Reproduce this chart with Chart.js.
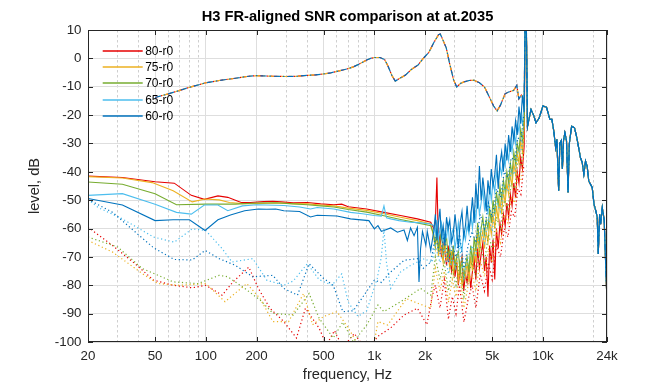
<!DOCTYPE html>
<html>
<head>
<meta charset="utf-8">
<script src="https://cdn.jsdelivr.net/npm/chart.js@4.4.1/dist/chart.umd.min.js"></script>
<style>
  html, body { margin: 0; padding: 0; background: #fff; }
  #wrap { width: 672px; height: 384px; }
</style>
</head>
<body>
<div id="wrap"><canvas id="snr" width="672" height="384"></canvas></div>
<script>
// ---- data (frequency in Hz, level in dB) ----

const titleText = "H3 FR-aligned SNR comparison at at.2035";
const seriesNames = ["80-r0", "75-r0", "70-r0", "65-r0", "60-r0"];
const seriesColors = ["#e60000", "#EDB120", "#77AC30", "#4DBEEE", "#0072BD"];

const xMajor = [20, 50, 100, 200, 500, 1000, 2000, 5000, 10000, 24000];
const xMajorLabels = ["20", "50", "100", "200", "500", "1k", "2k", "5k", "10k", "24k"];
const xMinor = [30, 40, 60, 70, 80, 90, 300, 400, 600, 700, 800, 900,
  3000, 4000, 6000, 7000, 8000, 9000, 20000];

// solid lines, smooth part below ~2.2 kHz
const red80Low = [[20,-41.5],[32,-42],[50,-43.5],[65,-44],[82,-48.3],[98,-49.7],[118,-48.5],[135,-49],[162,-50.8],
  [184,-50.8],[220,-50.5],[250,-50.4],[280,-50.6],[330,-50.9],[400,-50.8],[480,-51.3],[575,-51.6],[640,-51.4],
  [700,-52.3],[900,-53.1],[1140,-54.3],[1430,-55.4],[1800,-56.6],[2160,-57.8]];
const orange75Low = [[20,-41.7],[32,-42.2],[48,-43.8],[64,-46.7],[83,-50.6],[99,-49.6],[120,-49.9],[138,-50.8],
  [165,-51.2],[200,-51.2],[260,-51],[330,-51.2],[400,-51.3],[480,-51.7],[575,-52],[700,-52.8],[900,-53.6],
  [1140,-54.8],[1430,-56],[1800,-57.2],[2160,-58.4]];
const green70Low = [[20,-43.6],[32,-44.4],[50,-47.7],[67,-51.6],[100,-51.4],[150,-51.4],[200,-51],[260,-50.9],
  [330,-51.3],[400,-51.6],[480,-52],[575,-52.4],[700,-53.3],[900,-54.2],[1140,-55.5],[1430,-56.8],[1800,-58],[2160,-59]];
const lb65Low = [[20,-48.3],[32,-47.7],[50,-51.4],[67,-54.3],[82,-54.9],[98,-51.7],[118,-51.7],[135,-53.7],[165,-52],
  [200,-51.6],[290,-51.9],[360,-52.4],[418,-53.1],[458,-52.6],[575,-53.1],[722,-54.3],[850,-54.8],[1000,-55.4],
  [1100,-55.6],[1140,-52],[1180,-56.2],[1250,-56.6],[1400,-57.2],[1640,-57.8],[1900,-58],[2160,-58.4]];
const blue60Low = [[20,-49.4],[32,-51.7],[50,-57.2],[64,-56.9],[80,-56.9],[99,-60.7],[118,-56.9],[140,-55.2],
  [170,-53.7],[205,-53.1],[230,-53.2],[260,-53.1],[290,-53.7],[360,-54],[418,-55.9],[458,-55.3],[600,-55.6],
  [722,-56.6],[928,-57.2],[1000,-60.1],[1050,-59],[1100,-61],[1140,-60.7],[1250,-59.8],[1370,-61.3],[1500,-60.5],
  [1570,-64.2],[1640,-59.8],[1720,-62.5],[1800,-59.6],[1840,-78.8],[1880,-67.1],[1930,-61],[2020,-65.9],
  [2060,-61],[2160,-67.7]];

// solid lines, noisy part 2.25k - 7.7k (shared frequencies)
const fNoise = [2250,2300,2350,2400,2450,2500,2560,2620,2680,2740,2800,2870,2940,3010,3080,3150,3230,3310,3390,
  3470,3550,3640,3730,3820,3910,4000,4100,4200,4300,4400,4500,4610,4720,4830,4940,5060,5180,5300,5430,5560,
  5690,5830,5970,6110,6260,6410,6560,6720,6880,7040,7210,7380,7560,7740];
const red80Noise = [-60,-58,-42,-66,-62,-70,-64,-68,-73,-66, -71,-75,-68,-77,-72,-80,-74,-70,-82,-76,
  -79,-73,-81,-75,-71,-78,-67,-74,-69,-65, -75,-70,-84,-66,-72,-64,-78,-60,-67,-58,
  -62,-55,-59,-51,-56,-48,-52,-44,-49,-40, -44,-35,-39,-31];
const orange75Noise = [-63,-67,-61,-70,-65,-68,-72,-64,-71,-69, -74,-68,-76,-72,-70,-78,-73,-80,-75,-77,
  -72,-79,-70,-75,-67,-72,-62,-69,-64,-61, -67,-61,-65,-58,-62,-55,-60,-52,-57,-50,
  -55,-47,-51,-44,-48,-41,-45,-37,-41,-33, -37,-29,-33,-24];
const green70Noise = [-62,-66,-60,-68,-64,-61,-69,-65,-63,-70, -67,-72,-66,-74,-70,-68,-76,-71,-78,-73,
  -70,-75,-66,-72,-63,-68,-58,-65,-60,-56, -62,-57,-60,-53,-58,-50,-55,-47,-52,-45,
  -50,-43,-47,-40,-44,-37,-41,-33,-37,-30, -33,-25,-29,-21];
const lb65Noise = [-59,-62,-57,-64,-60,-58,-65,-61,-63,-59, -66,-62,-60,-67,-63,-58,-65,-68,-61,-64,
  -59,-62,-55,-60,-53,-57,-48,-55,-51,-46, -53,-49,-55,-45,-50,-43,-47,-40,-44,-38,
  -41,-35,-38,-32,-36,-29,-33,-26,-30,-23, -26,-20,-23,-16];
const blue60Noise = [-61,-55,-64,-58,-53,-63,-59,-66,-56,-60, -57,-65,-62,-55,-61,-67,-58,-54,-63,-59,
  -52,-61,-56,-49,-58,-44,-53,-38,-50,-42, -47,-54,-43,-48,-39,-45,-41,-34,-46,-37,
  -33,-40,-30,-36,-27,-33,-24,-29,-22,-27, -17,-23,-13,-19];

// spike and high-frequency tail, common to every curve
const tailHi = [[7850,16],[7960,16],[8100,-24],[8500,-18],[8800,-20],[9100,-22.7],[9500,-21],[10000,-16.8],
  [10500,-17.2],[11000,-21.5],[11300,-21.5],[11600,-25.6],[11900,-31.5],[12100,-28.5],[12400,-46.7],[12600,-30],
  [12850,-29],[13050,-39],[13250,-29],[13500,-26.2],[13800,-29],[14100,-47.3],[14350,-30],[14800,-23.9],
  [15400,-24.5],[15900,-28],[16700,-35],[17100,-36.7],[17500,-40.9],[17900,-36.2],[18300,-38],[18700,-43.2],
  [19600,-45.5],[20100,-51.4],[20600,-53.8],[21000,-56],[21300,-69],[21700,-55],[22000,-58.5],[22500,-52.6],
  [23100,-57],[23500,-70.2],[23800,-79.5],[24000,-87]];

// dotted lines
const red80DotLow = [[20,-59.5],[28,-66],[38,-72.4],[49,-78.2],[64,-80],[83,-80.9],[100,-80],[125,-83.5],
  [145,-78.8],[180,-73.6],[205,-81.1],[240,-88.1],[290,-92.8],[345,-98.6],[390,-88.1],[470,-95.1],[520,-101],
  [580,-96],[650,-102],[760,-97],[900,-103],[1050,-98],[1250,-95],[1500,-90.5],[1800,-88.1],[2050,-93.9],[2200,-84]];
const orange75DotLow = [[20,-64.2],[28,-68.3],[42,-75.9],[52,-79.4],[70,-80],[100,-79.4],[130,-85.8],[175,-79.4],
  [210,-84.7],[250,-92.8],[310,-92.8],[380,-82.9],[430,-93.9],[500,-91],[600,-89.3],[700,-95],[800,-101],
  [1000,-100],[1050,-92.8],[1200,-94],[1550,-84.7],[1750,-86],[2160,-88.1]];
const green70DotLow = [[20,-63],[30,-66.5],[42,-74.1],[64,-78.8],[90,-79.4],[120,-76.5],[135,-77],[170,-81.1],
  [210,-85.2],[250,-89.9],[330,-90.5],[410,-82.9],[470,-91.6],[570,-98.6],[650,-93],[750,-100],[900,-94],
  [1050,-87],[1140,-89.3],[1430,-85.8],[1640,-83.5],[1880,-81.1],[2160,-83.5]];
const lb65DotLow = [[20,-49.7],[23,-52.6],[32,-56.6],[49,-63],[65,-64.8],[83,-60.1],[100,-60.7],[125,-67.1],
  [143,-71.8],[190,-70.6],[230,-78.2],[290,-80],[330,-78.5],[400,-72.4],[470,-78],[560,-80],[640,-76],[700,-86],
  [800,-91],[900,-89],[1040,-77.6],[1100,-70],[1140,-60.1],[1180,-72],[1250,-81.1],[1430,-75.3],[1640,-73],
  [1980,-70.6],[2200,-72]];
const blue60DotLow = [[20,-49.7],[28,-54.3],[49,-66.8],[65,-70.9],[83,-71.1],[99,-67.7],[120,-70.6],[150,-73],
  [190,-77],[250,-76.5],[290,-81.1],[350,-83.5],[410,-72.4],[500,-77.6],[570,-80],[650,-89.3],[750,-89],
  [1000,-78.2],[1100,-79],[1250,-75.3],[1500,-71.2],[1800,-70.6],[1950,-74],[2160,-71.8]];

const fDotHi = [2300,2450,2600,2750,2900,3050,3200,3400,3600,3800,4000,4250,4500,4750,5000,5300,5600,5900,
  6200,6500,6800,7100,7400,7700];
const red80DotHi = [-80,-88,-78,-92,-84,-90,-80,-93,-85,-80, -88,-76,-82,-72,-78,-66,-70,-60,-63,-54, -56,-46,-48,-38];
const orange75DotHi = [-74,-82,-75,-86,-78,-84,-76,-88,-80,-76, -82,-71,-77,-67,-72,-61,-65,-55,-58,-49, -51,-41,-43,-33];
const green70DotHi = [-70,-78,-72,-82,-74,-80,-72,-84,-76,-72, -77,-66,-72,-62,-67,-56,-60,-50,-53,-44, -46,-36,-38,-28];
const lb65DotHi = [-66,-72,-67,-76,-70,-74,-66,-78,-70,-66, -70,-60,-65,-56,-61,-50,-54,-45,-47,-39, -41,-32,-33,-24];
const blue60DotHi = [-63,-69,-62,-72,-66,-70,-62,-74,-66,-61, -65,-55,-60,-51,-56,-46,-49,-40,-42,-35, -36,-28,-29,-20];

// dash-dot frequency response (same for every run)
const frCurve = [[50,-13.8],[60,-12.5],[70,-11.3],[80,-10.2],[100,-8.6],[120,-7.8],[150,-7],[180,-6.3],[200,-6.1],
  [250,-6.3],[300,-6.4],[350,-6.3],[400,-6],[450,-5.8],[500,-5.5],[550,-5.1],[600,-4.6],[650,-4.1],[700,-3.6],
  [750,-3],[800,-2.2],[850,-1.4],[900,-0.6],[950,0],[1000,0.3],[1080,0.3],[1150,-0.4],[1200,-2.5],[1270,-6],
  [1330,-8],[1400,-7.2],[1530,-5.9],[1650,-4],[1820,-2.3],[1950,0],[2100,2],[2250,5.5],[2400,8.3],[2460,8.6],
  [2550,6.5],[2670,3.7],[2800,-2],[2950,-7.5],[3080,-10.1],[3250,-8.8],[3400,-8.3],[3650,-7.8],[3900,-7.7],
  [4200,-8.6],[4500,-10.1],[4800,-13.5],[5100,-16.8],[5350,-18.5],[5600,-16.5],[5960,-12.5],[6300,-11.8],
  [6700,-11.3],[7000,-9.5],[7200,-14.3],[7450,-13],[7740,-15]];

// ---- build datasets ----
const pairs = (arr) => arr.map(([x, y]) => ({ x, y }));
const zipF = (f, v) => f.map((x, i) => ({ x, y: v[i] }));

const solidData = [
  [...pairs(red80Low), ...zipF(fNoise, red80Noise), ...pairs(tailHi)],
  [...pairs(orange75Low), ...zipF(fNoise, orange75Noise), ...pairs(tailHi)],
  [...pairs(green70Low), ...zipF(fNoise, green70Noise), ...pairs(tailHi)],
  [...pairs(lb65Low), ...zipF(fNoise, lb65Noise), ...pairs(tailHi)],
  [...pairs(blue60Low), ...zipF(fNoise, blue60Noise), ...pairs(tailHi)],
];
const dotData = [
  [...pairs(red80DotLow), ...zipF(fDotHi, red80DotHi)],
  [...pairs(orange75DotLow), ...zipF(fDotHi, orange75DotHi)],
  [...pairs(green70DotLow), ...zipF(fDotHi, green70DotHi)],
  [...pairs(lb65DotLow), ...zipF(fDotHi, lb65DotHi)],
  [...pairs(blue60DotLow), ...zipF(fDotHi, blue60DotHi)],
];
const frData = [...pairs(frCurve), ...pairs(tailHi)];

const datasets = [];
// solid lines first so the legend can read them by index (0..4)
seriesNames.forEach((name, i) => {
  datasets.push({
    label: name, data: solidData[i], borderColor: seriesColors[i],
    borderWidth: 1.1, order: 14 - i * 3,
  });
});
seriesNames.forEach((name, i) => {
  datasets.push({
    label: name + " noise", data: dotData[i], borderColor: seriesColors[i],
    borderWidth: 1.2, borderDash: [1.2, 2.6], order: 13 - i * 3,
  });
});
// FR dash-dot, drawn in a few colours with shifted dashes like the overlaid originals
[[0, 3], [1, 6], [4, 0]].forEach(([i, off]) => {
  datasets.push({
    label: "FR " + seriesNames[i], data: frData, borderColor: seriesColors[i],
    borderWidth: 1.2, borderDash: [6, 3, 1.5, 3], borderDashOffset: off, order: 12 - i * 3,
  });
});

// ---- plugins: MATLAB-like box with inward ticks, and the legend ----
const FONT = '"Liberation Sans", Arial, Helvetica, sans-serif';
const AXIS_COLOR = "#262626";

const boxPlugin = {
  id: "axesBox",
  afterDatasetsDraw(chart) {
    const { ctx, chartArea: a, scales } = chart;
    const tick = 5;
    ctx.save();
    ctx.strokeStyle = AXIS_COLOR;
    ctx.lineWidth = 1;
    ctx.setLineDash([]);
    ctx.beginPath();
    xMajor.forEach((v) => {
      const px = Math.round(scales.x.getPixelForValue(v)) + 0.5;
      ctx.moveTo(px, a.bottom); ctx.lineTo(px, a.bottom - tick);
      ctx.moveTo(px, a.top); ctx.lineTo(px, a.top + tick);
    });
    scales.y.ticks.forEach((t) => {
      const py = Math.round(scales.y.getPixelForValue(t.value)) + 0.5;
      ctx.moveTo(a.left, py); ctx.lineTo(a.left + tick, py);
      ctx.moveTo(a.right, py); ctx.lineTo(a.right - tick, py);
    });
    ctx.stroke();
    ctx.strokeRect(Math.round(a.left) + 0.5, Math.round(a.top) + 0.5,
      Math.round(a.right - a.left) - 1, Math.round(a.bottom - a.top) - 1);
    ctx.restore();
  },
};

const legendPlugin = {
  id: "insideLegend",
  afterDatasetsDraw(chart) {
    const { ctx, chartArea: a } = chart;
    ctx.save();
    ctx.font = "12px " + FONT;
    ctx.textBaseline = "middle";
    ctx.textAlign = "left";
    ctx.setLineDash([]);
    chart.data.datasets.slice(0, seriesNames.length).forEach((ds, i) => {
      const y = Math.round(a.top + 20.7 + i * 16.3);
      const x0 = a.left + 14.7;
      ctx.strokeStyle = ds.borderColor;
      ctx.lineWidth = 1.5;
      ctx.beginPath();
      ctx.moveTo(x0, y); ctx.lineTo(x0 + 40, y);
      ctx.stroke();
      ctx.fillStyle = "#000";
      ctx.fillText(ds.label, x0 + 42.5, y + 0.5);
    });
    ctx.restore();
  },
};

Chart.defaults.font.family = FONT;

new Chart(document.getElementById("snr").getContext("2d"), {
  type: "line",
  data: { datasets },
  options: {
    responsive: false,
    animation: false,
    devicePixelRatio: 1,
    layout: { padding: { left: 0, right: 65, top: 0, bottom: 0 } },
    elements: { point: { radius: 0 }, line: { tension: 0, borderCapStyle: "butt" } },
    plugins: {
      legend: { display: false },
      tooltip: { enabled: false },
      title: {
        display: true, text: titleText, fullSize: false, color: "#000",
        font: { size: 14.67, weight: "bold" }, padding: { top: 8.2, bottom: 4.2 },
      },
    },
    scales: {
      x: {
        type: "logarithmic", min: 20, max: 24000,
        afterBuildTicks: (scale) => {
          scale.ticks = [...xMajor, ...xMinor].sort((p, q) => p - q).map((v) => ({ value: v }));
        },
        afterFit: (scale) => { scale.height = 42; },
        ticks: {
          autoSkip: false, maxRotation: 0, minRotation: 0, padding: 6,
          color: AXIS_COLOR, font: { size: 13.33 },
          callback: (v) => {
            const k = xMajor.indexOf(v);
            return k >= 0 ? xMajorLabels[k] : "";
          },
        },
        grid: {
          drawTicks: false,
          color: (c) => (c.tick && xMajor.includes(c.tick.value) ? "#dedede" : "#cfcfcf"),
        },
        border: {
          display: false,
          dash: (c) => (c.tick && xMajor.includes(c.tick.value) ? [] : [2.5, 2.5]),
        },
        title: {
          display: true, text: "frequency, Hz", color: AXIS_COLOR,
          font: { size: 14.67 }, padding: { top: 0, bottom: 0 },
        },
      },
      y: {
        min: -100, max: 10,
        afterFit: (scale) => { scale.width = 88; },
        ticks: { stepSize: 10, padding: 6.5, color: AXIS_COLOR, font: { size: 13.33 } },
        grid: { drawTicks: false, color: "#dedede" },
        border: { display: false },
        title: {
          display: true, text: "level, dB", color: AXIS_COLOR,
          font: { size: 14.67 }, padding: { top: 26, bottom: 0 },
        },
      },
    },
  },
  plugins: [boxPlugin, legendPlugin],
});
</script>
</body>
</html>
